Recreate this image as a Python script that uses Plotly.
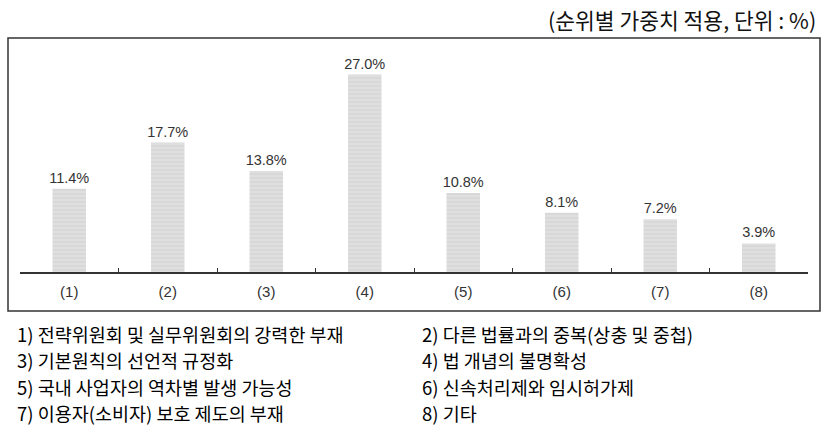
import plotly.graph_objects as go

categories = ["(1)", "(2)", "(3)", "(4)", "(5)", "(6)", "(7)", "(8)"]
values = [11.4, 17.7, 13.8, 27.0, 10.8, 8.1, 7.2, 3.9]
value_labels = [f"{v:.1f}%" for v in values]
title_text = "(순위별 가중치 적용, 단위 : %)"
legend_left = [
    "1) 전략위원회 및 실무위원회의 강력한 부재",
    "3) 기본원칙의 선언적 규정화",
    "5) 국내 사업자의 역차별 발생 가능성",
    "7) 이용자(소비자) 보호 제도의 부재",
]
legend_right = [
    "2) 다른 법률과의 중복(상충 및 중첩)",
    "4) 법 개념의 불명확성",
    "6) 신속처리제와 임시허가제",
    "8) 기타",
]

W, H = 833, 439
L, R, T, B = 20, 25, 38, 167
pw, ph = W - L - R, H - T - B


def px_x(x):
    return (x - L) / pw


def px_y(y):
    return (H - B - y) / ph


fig = go.Figure()
fig.add_trace(go.Bar(
    x=categories,
    y=values,
    width=0.34,
    text=value_labels,
    textposition="outside",
    constraintext="none",
    textfont=dict(family="Liberation Sans, Arial, sans-serif", size=14.5, color="#333333"),
    marker=dict(
        color="#dadada",
        line=dict(width=0),
        pattern=dict(shape="-", bgcolor="#d8d8d8", fgcolor="#ebebeb", size=4, solidity=0.35),
    ),
    cliponaxis=False,
    hoverinfo="skip",
))

fig.update_layout(
    width=W,
    height=H,
    margin=dict(l=L, r=R, t=T, b=B),
    paper_bgcolor="white",
    plot_bgcolor="white",
    showlegend=False,
    xaxis=dict(
        showline=True,
        linecolor="#333333",
        linewidth=1.5,
        ticks="inside",
        tickson="boundaries",
        ticklen=4,
        tickwidth=1.2,
        tickcolor="#333333",
        showgrid=False,
        zeroline=False,
        tickfont=dict(family="Liberation Sans, Arial, sans-serif", size=15, color="#333333"),
        ticklabelstandoff=5,
        fixedrange=True,
    ),
    yaxis=dict(
        range=[0, 32],
        visible=False,
        showgrid=False,
        zeroline=False,
        fixedrange=True,
    ),
)

fig.add_shape(
    type="rect", xref="paper", yref="paper",
    x0=px_x(8), x1=px_x(820), y0=px_y(311), y1=px_y(38),
    line=dict(color="#333333", width=1.5),
    fillcolor="rgba(0,0,0,0)",
    layer="below",
)

fig.add_annotation(
    text=title_text, xref="paper", yref="paper",
    x=px_x(818), y=px_y(19), xanchor="right", yanchor="middle",
    showarrow=False,
    font=dict(family="Noto Sans CJK KR", size=21.5, color="#111111"),
)

rows_y = [334, 360, 387, 413]
for txt, yy in zip(legend_left, rows_y):
    fig.add_annotation(
        text=txt, xref="paper", yref="paper",
        x=px_x(15), y=px_y(yy), xanchor="left", yanchor="middle",
        showarrow=False,
        font=dict(family="Noto Sans CJK KR", size=18.5, color="#000000"),
    )
for txt, yy in zip(legend_right, rows_y):
    fig.add_annotation(
        text=txt, xref="paper", yref="paper",
        x=px_x(420), y=px_y(yy), xanchor="left", yanchor="middle",
        showarrow=False,
        font=dict(family="Noto Sans CJK KR", size=18.5, color="#000000"),
    )

fig.write_html("out.html")
